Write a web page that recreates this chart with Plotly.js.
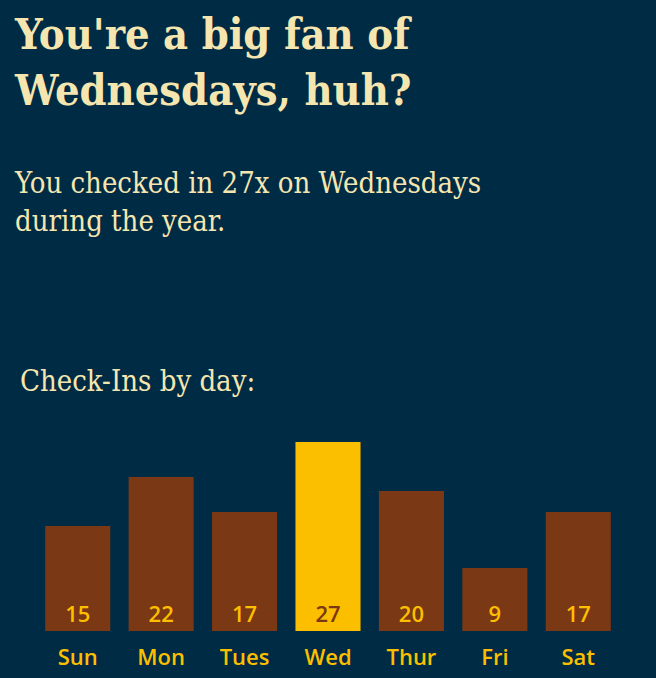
<!DOCTYPE html>
<html>
<head>
<meta charset="utf-8">
<script src="https://cdn.plot.ly/plotly-3.0.1.min.js"></script>
<style>html,body{margin:0;padding:0;background:#002b45;}#chart{width:656px;height:678px;}</style>
</head>
<body>
<div id="chart"></div>
<script>
const days = ["Sun", "Mon", "Tues", "Wed", "Thur", "Fri", "Sat"];
const checkIns = [15, 22, 17, 27, 20, 9, 17];
const highlightDay = "Wed";

const titleText = "You're a big fan of<br>Wednesdays, huh?";
const subtitleText = "You checked in 27x on Wednesdays<br>during the year.";
const sectionText = "Check-Ins by day:";

const bg = "#002b45";
const brown = "#7b3814";
const gold = "#fcbf00";
const cream = "#f5e6b0";

const barColors = days.map(d => d === highlightDay ? gold : brown);
const textColors = days.map(d => d === highlightDay ? brown : gold);

const trace = {
  type: "bar",
  x: days,
  y: checkIns,
  marker: {color: barColors},
  width: 0.78,
  text: checkIns.map(String),
  textposition: "inside",
  insidetextanchor: "start",
  constraintext: "none",
  textangle: 0,
  textfont: {family: "Open Sans", size: 22, weight: 600, color: textColors},
  hoverinfo: "none"
};

const layout = {
  width: 656, height: 678,
  paper_bgcolor: bg, plot_bgcolor: bg,
  margin: {l: 36, r: 36, t: 442, b: 47},
  showlegend: false,
  xaxis: {
    type: "category",
    showgrid: false, zeroline: false, showline: false,
    ticks: "outside", ticklen: 7, tickcolor: "rgba(0,0,0,0)",
    tickfont: {family: "Open Sans", size: 22, weight: 600, color: gold},
    fixedrange: true
  },
  yaxis: {
    range: [0, 27],
    visible: false,
    fixedrange: true
  },
  annotations: [
    {text: titleText, showarrow: false, align: "left", xanchor: "left", yanchor: "top",
     font: {family: "DejaVu Serif Condensed, DejaVu Serif", size: 43, weight: 700, color: cream}},
    {text: subtitleText, showarrow: false, align: "left", xanchor: "left", yanchor: "top",
     font: {family: "DejaVu Serif Condensed, DejaVu Serif", size: 29, color: cream}},
    {text: sectionText, showarrow: false, align: "left", xanchor: "left", yanchor: "top",
     font: {family: "DejaVu Serif Condensed, DejaVu Serif", size: 29, color: cream}}
  ]
};

const plotH = layout.height - layout.margin.t - layout.margin.b;
function pyToPaper(px) { return (layout.height - layout.margin.b - px) / plotH; }
function pxToPaper(px) { return (px - layout.margin.l) / (layout.width - layout.margin.l - layout.margin.r); }
const annPos = [[12, 7], [12, 164], [18, 362]];
layout.annotations.forEach((a, i) => {
  a.xref = "paper"; a.yref = "paper";
  a.x = pxToPaper(annPos[i][0]); a.y = pyToPaper(annPos[i][1]);
});

Plotly.newPlot("chart", [trace], layout, {displayModeBar: false, staticPlot: true});
</script>
</body>
</html>
